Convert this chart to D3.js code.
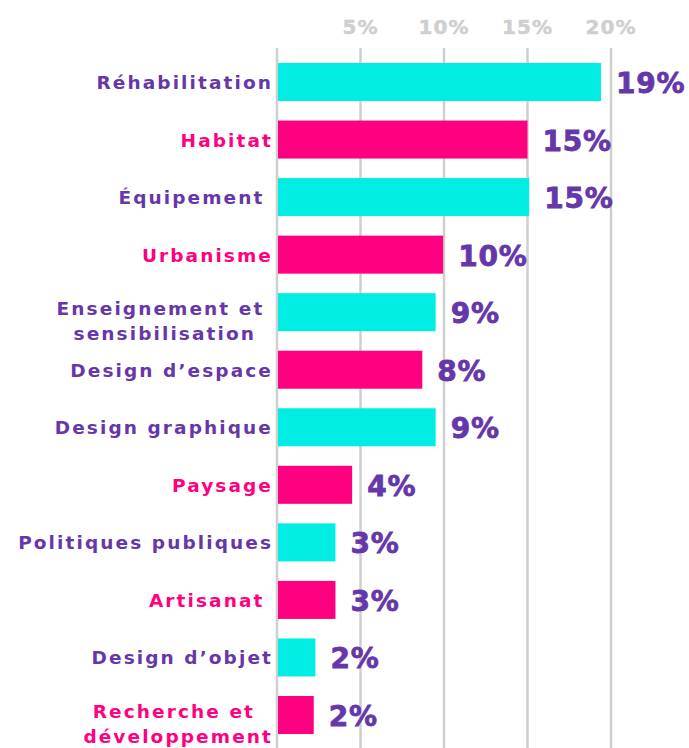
<!DOCTYPE html>
<html>
<head>
<meta charset="utf-8">
<script src="https://cdn.jsdelivr.net/npm/d3@7"></script>
<style>
  body { margin: 0; background: #fff; }
  text { font-family: "DejaVu Sans", sans-serif; font-weight: bold; white-space: pre; }
</style>
</head>
<body>
<div id="chart"></div>
<script>
// categories (line breaks with \n), printed labels
var categories = ["Réhabilitation", "Habitat", "Équipement ", "Urbanisme", "Enseignement et \nsensibilisation",
  "Design d’espace", "Design graphique", "Paysage", "Politiques publiques", "Artisanat ",
  "Design d’objet", "Recherche et \ndéveloppement"];
var values = [19.4, 15, 15.1, 9.95, 9.5, 8.7, 9.5, 4.5, 3.5, 3.5, 2.3, 2.2];
var valueLabels = ["19%", "15%", "15%", "10%", "9%", "8%", "9%", "4%", "3%", "3%", "2%", "2%"];
var barColors = ["cyan", "pink", "cyan", "pink", "cyan", "pink", "cyan", "pink", "cyan", "pink", "cyan", "pink"];
var labelColors = ["purple", "pink", "purple", "pink", "purple", "purple", "purple", "pink", "purple", "pink", "purple", "pink"];
var ticks = [0, 5, 10, 15, 20];
var tickLabels = ["", "5%", "10%", "15%", "20%"];

var width = 689, height = 748;
var palette = {cyan: "#00ede3", pink: "#ff0080", purple: "#6537a9"};

var svg = d3.select("#chart").append("svg")
  .attr("width", width)
  .attr("height", height);

var x = d3.scaleLinear().domain([0, 20]).range([277, 611]);
var y = d3.scalePoint().domain(categories).range([82, 715]);
var barHeight = 38;

// grid lines
svg.append("g")
  .selectAll("line")
  .data(ticks)
  .enter()
  .append("line")
  .attr("x1", d => x(d)).attr("x2", d => x(d))
  .attr("y1", 48).attr("y2", height)
  .style("stroke", "#cfcfcf")
  .style("stroke-width", "2.5px");

// tick labels on top
svg.append("g")
  .selectAll("text")
  .data(ticks)
  .enter()
  .append("text")
  .attr("x", d => x(d))
  .attr("y", 34)
  .attr("text-anchor", "middle")
  .style("fill", "#cfcfcf")
  .style("stroke", "#cfcfcf")
  .style("stroke-width", "0.5px")
  .style("font-size", "20px")
  .style("letter-spacing", "1px")
  .text((d, i) => tickLabels[i]);

// bars
svg.append("g")
  .selectAll("rect")
  .data(categories)
  .enter()
  .append("rect")
  .attr("x", x(0) + 1)
  .attr("y", d => y(d) - barHeight / 2)
  .attr("width", (d, i) => x(values[i]) - x(0) - 1)
  .attr("height", barHeight)
  .style("fill", (d, i) => palette[barColors[i]]);

// value labels (a thin stroke to make them heavier)
svg.append("g")
  .selectAll("text")
  .data(categories)
  .enter()
  .append("text")
  .attr("x", (d, i) => x(values[i]) + 15)
  .attr("y", d => y(d) + 11)
  .style("fill", palette.purple)
  .style("stroke", palette.purple)
  .style("stroke-width", "0.8px")
  .style("font-size", "28px")
  .style("letter-spacing", "0.8px")
  .text((d, i) => valueLabels[i]);

// category labels, multi-line ones centred as a block
var labels = svg.append("g")
  .selectAll("text")
  .data(categories)
  .enter()
  .append("text")
  .style("fill", (d, i) => palette[labelColors[i]])
  .style("font-size", "18.5px")
  .style("letter-spacing", "2.1px");

labels.each(function (d) {
  var lines = d.split("\n");
  var t = d3.select(this);
  if (lines.length == 1) {
    t.attr("text-anchor", "end")
      .attr("x", 273)
      .attr("y", y(d) + 7)
      .text(d);
  } else {
    var spans = lines.map((l, k) => t.append("tspan").attr("y", y(d) + 3 + k * 25).text(l));
    var maxW = d3.max(spans, s => s.node().getComputedTextLength());
    t.attr("text-anchor", "middle");
    spans.forEach(s => s.attr("x", 273 - maxW / 2));
  }
});
</script>
</body>
</html>
